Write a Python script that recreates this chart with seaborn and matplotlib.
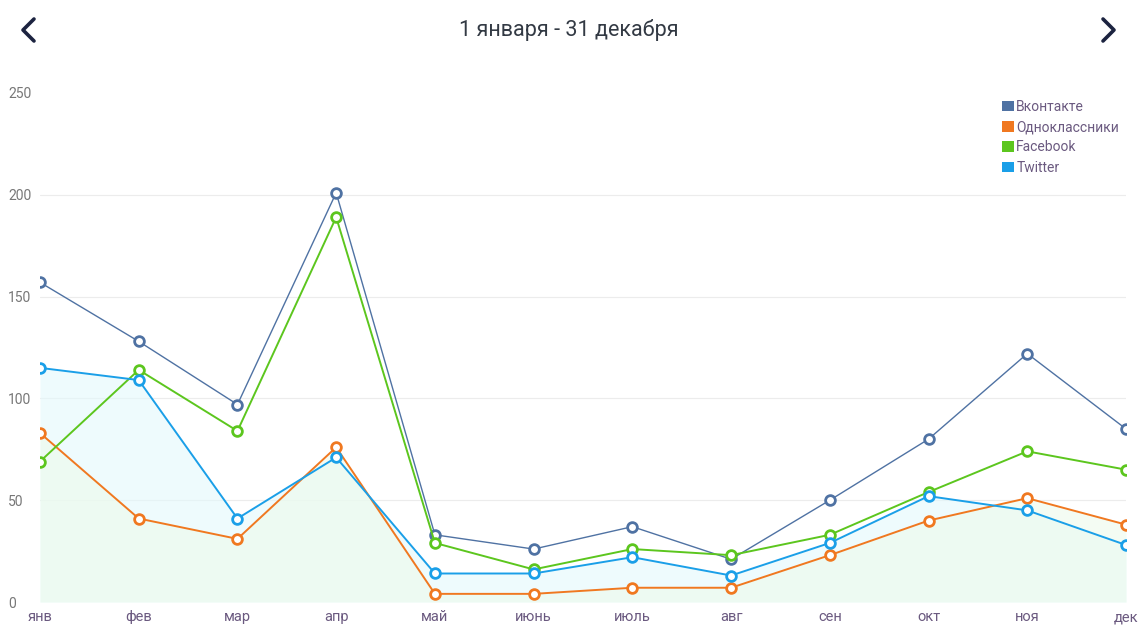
import matplotlib
matplotlib.use("Agg")
import matplotlib.pyplot as plt
from matplotlib.lines import Line2D
from matplotlib.patches import Patch
import pandas as pd
import seaborn as sns

months = ["янв", "фев", "мар", "апр", "май", "июнь", "июль", "авг", "сен", "окт", "ноя", "дек"]
vkontakte = [157, 128, 97, 201, 33, 26, 37, 21, 50, 80, 122, 85]
odnoklassniki = [83, 41, 31, 76, 4, 4, 7, 7, 23, 40, 51, 38]
facebook = [69, 114, 84, 189, 29, 16, 26, 23, 33, 54, 74, 65]
twitter = [115, 109, 41, 71, 14, 14, 22, 13, 29, 52, 45, 28]

series_names = ["Вконтакте", "Одноклассники", "Facebook", "Twitter"]
colors = {"Вконтакте": "#4f72a3", "Одноклассники": "#f07820",
          "Facebook": "#5cc61e", "Twitter": "#1a9fe8"}

sns.set_theme(style="white")
plt.rcParams["font.family"] = ["Roboto", "DejaVu Sans"]

df = pd.DataFrame({"x": list(range(len(months))) * 4,
                   "value": vkontakte + odnoklassniki + facebook + twitter,
                   "series": sum([[n] * len(months) for n in series_names], [])})

fig = plt.figure(figsize=(11.38, 6.25), dpi=100)
ax = fig.add_axes([40 / 1138, 23 / 625, 1086 / 1138, 509 / 625])

# light area fills under twitter and odnoklassniki
x = list(range(len(months)))
ax.fill_between(x, twitter, 0, color="#e3f9fc", alpha=0.6, lw=0, zorder=1)
ax.fill_between(x, odnoklassniki, 0, color="#edfaeb", alpha=0.6, lw=0, zorder=1)

widths = {"Вконтакте": 1.0, "Одноклассники": 1.4, "Facebook": 1.4, "Twitter": 1.4}
for name in series_names:
    sub = df[df["series"] == name]
    sns.lineplot(data=sub, x="x", y="value", ax=ax, color=colors[name],
                 lw=widths[name], marker="o", markersize=7,
                 markerfacecolor="white", markeredgecolor=colors[name],
                 markeredgewidth=2, zorder=3, legend=False)

ax.set_xlim(0, 11)
ax.set_ylim(0, 250)
ax.set_xticks(x)
ax.set_xticklabels(months, color="#6b5a80", fontsize=10.5)
ax.set_yticks([0, 50, 100, 150, 200, 250])
ax.set_yticklabels(["0", "50", "100", "150", "200", "250"], color="#777777",
                   fontsize=10, ha="left")
ax.tick_params(axis="y", length=0, pad=23)
ax.tick_params(axis="x", length=0, pad=6)
ax.grid(False)
for v in [50, 100, 150, 200]:
    ax.axhline(v, color="#ececec", lw=0.8, zorder=0)
sns.despine(ax=ax, left=True, bottom=True)
ax.set_xlabel("")
ax.set_ylabel("")

handles = [Patch(facecolor=colors[n], edgecolor="none", label=n) for n in series_names]
leg = ax.legend(handles=handles, loc="upper right", bbox_to_anchor=(1.0, 1.0),
                frameon=False, fontsize=10, handlelength=0.8, handleheight=0.8,
                handletextpad=0.2, labelspacing=0.45, borderaxespad=0.1)
for t in leg.get_texts():
    t.set_color("#6b5a80")

fig.text(0.5, 1 - 30 / 625, "1 января - 31 декабря", ha="center", va="center",
         fontsize=15.5, color="#333a44")

# navigation chevrons
nav = "#1c2340"
fig.add_artist(Line2D([34 / 1138, 23 / 1138, 34 / 1138],
                      [1 - 19 / 625, 1 - 30 / 625, 1 - 41 / 625],
                      color=nav, lw=2.6, solid_capstyle="round"))
fig.add_artist(Line2D([1103 / 1138, 1114 / 1138, 1103 / 1138],
                      [1 - 19 / 625, 1 - 30 / 625, 1 - 41 / 625],
                      color=nav, lw=2.6, solid_capstyle="round"))

fig.savefig("out.png", dpi=100)
